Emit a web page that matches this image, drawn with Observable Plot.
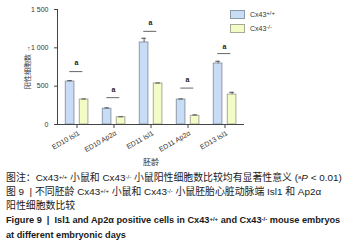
<!DOCTYPE html>
<html><head><meta charset="utf-8">
<script src="https://cdn.jsdelivr.net/npm/d3@7"></script>
<script src="https://cdn.jsdelivr.net/npm/@observablehq/plot@0.6"></script>
<style>
body{margin:0;background:#fff;width:344px;height:246px;overflow:hidden;font-family:"Liberation Sans","Noto Sans CJK SC",sans-serif;}
#wrap{position:relative;width:344px;height:246px;}
#chart{position:absolute;left:0;top:0;}
.leg{position:absolute;left:230px;font-size:7px;color:#333;display:flex;align-items:center;height:9px;}
.sw{width:13px;height:7px;border:1px solid #8d9aa8;margin-right:5px;box-sizing:content-box;}
.cap{position:absolute;left:6px;font-size:9.9px;white-space:nowrap;color:#1a1a1a;line-height:12px;}
.cap.en{font-weight:bold;font-size:9.2px;}
sup{font-size:6px;vertical-align:top;position:relative;top:-1px;}
</style></head><body>
<div id="wrap">
<div id="chart"></div>
<div class="leg" style="top:10px"><div class="sw" style="background:#c8dcf6"></div><span>Cx43<sup>+/+</sup></span></div>
<div class="leg" style="top:24px"><div class="sw" style="background:#f4fcc6;border-color:#a8a898"></div><span>Cx43<sup>-/-</sup></span></div>
<div class="cap" style="top:172px">图注：Cx43<sup>+/+</sup> 小鼠和 Cx43<sup>-/-</sup> 小鼠阳性细胞数比较均有显著性意义 (<sup>a</sup><i>P</i> &lt; 0.01)</div>
<div class="cap" style="top:186px">图 9 &nbsp;| 不同胚龄 Cx43<sup>+/+</sup> 小鼠和 Cx43<sup>-/-</sup> 小鼠胚胎心脏动脉端 Isl1 和 Ap2α</div>
<div class="cap" style="top:200px">阳性细胞数比较</div>
<div class="cap en" style="top:214px">Figure 9 &nbsp;| &nbsp;Isl1 and Ap2α positive cells in Cx43<sup>+/+</sup> and Cx43<sup>-/-</sup> mouse embryos</div>
<div class="cap en" style="top:229px">at different embryonic days</div>
</div>
<script>
const categories = ["ED10 Isl1", "ED10 Ap2α", "ED11 Isl1", "ED11 Ap2α", "ED13 Isl1"];
const wildType = [560, 205, 1070, 325, 795];
const wildTypeErr = [12, 12, 55, 8, 30];
const knockout = [325, 95, 535, 113, 390];
const knockoutErr = [8, 6, 6, 12, 30];
const sigLine = [690, 350, 1215, 475, 925];
const sigLabel = [800, 455, 1325, 590, 1015];
const yTicks = [0, 500, 1000, 1500];

const wt = categories.map((c, i) => ({category: c, value: wildType[i], err: wildTypeErr[i]}));
const ko = categories.map((c, i) => ({category: c, value: knockout[i], err: knockoutErr[i]}));
const sig = categories.map((c, i) => ({category: c, line: sigLine[i], label: sigLabel[i]}));
const fmt = d => String(d).replace(/\B(?=(\d{3})+(?!\d))/g, " ");

const plot = Plot.plot({
  width: 344, height: 168,
  marginLeft: 57, marginRight: 100, marginTop: 9, marginBottom: 44,
  style: {fontFamily: '"Liberation Sans","Noto Sans CJK SC",sans-serif', fontSize: "7px", color: "#333", background: "transparent"},
  x: {domain: categories, padding: 0},
  y: {domain: [0, 1500]},
  marks: [
    Plot.barY(wt, {x: "category", y: "value", insetLeft: 7.3, insetRight: 21.1, fill: "#c8dcf6", stroke: "#8d9aa8", strokeWidth: 1}),
    Plot.barY(ko, {x: "category", y: "value", insetLeft: 21.3, insetRight: 7.1, fill: "#f4fcc6", stroke: "#a8a898", strokeWidth: 1}),
    Plot.ruleX(wt, {x: "category", y1: "value", y2: d => d.value + d.err, dx: -6.9, stroke: "#555"}),
    Plot.ruleX(ko, {x: "category", y1: "value", y2: d => d.value + d.err, dx: 7.1, stroke: "#555"}),
    Plot.tickY(wt, {x: "category", y: d => d.value + d.err, insetLeft: 9.3, insetRight: 23.1, stroke: "#555"}),
    Plot.tickY(ko, {x: "category", y: d => d.value + d.err, insetLeft: 23.3, insetRight: 9.1, stroke: "#555"}),
    Plot.tickY(sig, {x: "category", y: "line", insetLeft: 11.3, insetRight: 12.7, stroke: "#666", strokeWidth: 1}),
    Plot.text(sig, {x: "category", y: "label", text: () => "a", fontSize: 7, fontWeight: "bold", dx: -0.5, fill: "#222"}),
    Plot.axisY(yTicks, {tickSize: 3, tickFormat: fmt, fontSize: 7, label: "阳性细胞数", labelAnchor: "center", labelOffset: 32, stroke: "#444"}),
    Plot.axisX({tickSize: 4, tickFormat: () => "", label: "胚龄", labelAnchor: "center", labelOffset: 40, stroke: "#444", fontSize: 8}),
    Plot.text(categories, {x: d => d, y: () => 0, text: d => d, rotate: -30, textAnchor: "end", dx: 2, dy: 8, fontSize: 7, fill: "#333"}),
    Plot.frame({anchor: "left", stroke: "#444"}),
    Plot.ruleY([0], {stroke: "#444"})
  ]
});
document.getElementById("chart").appendChild(plot);
</script>
</body></html>
